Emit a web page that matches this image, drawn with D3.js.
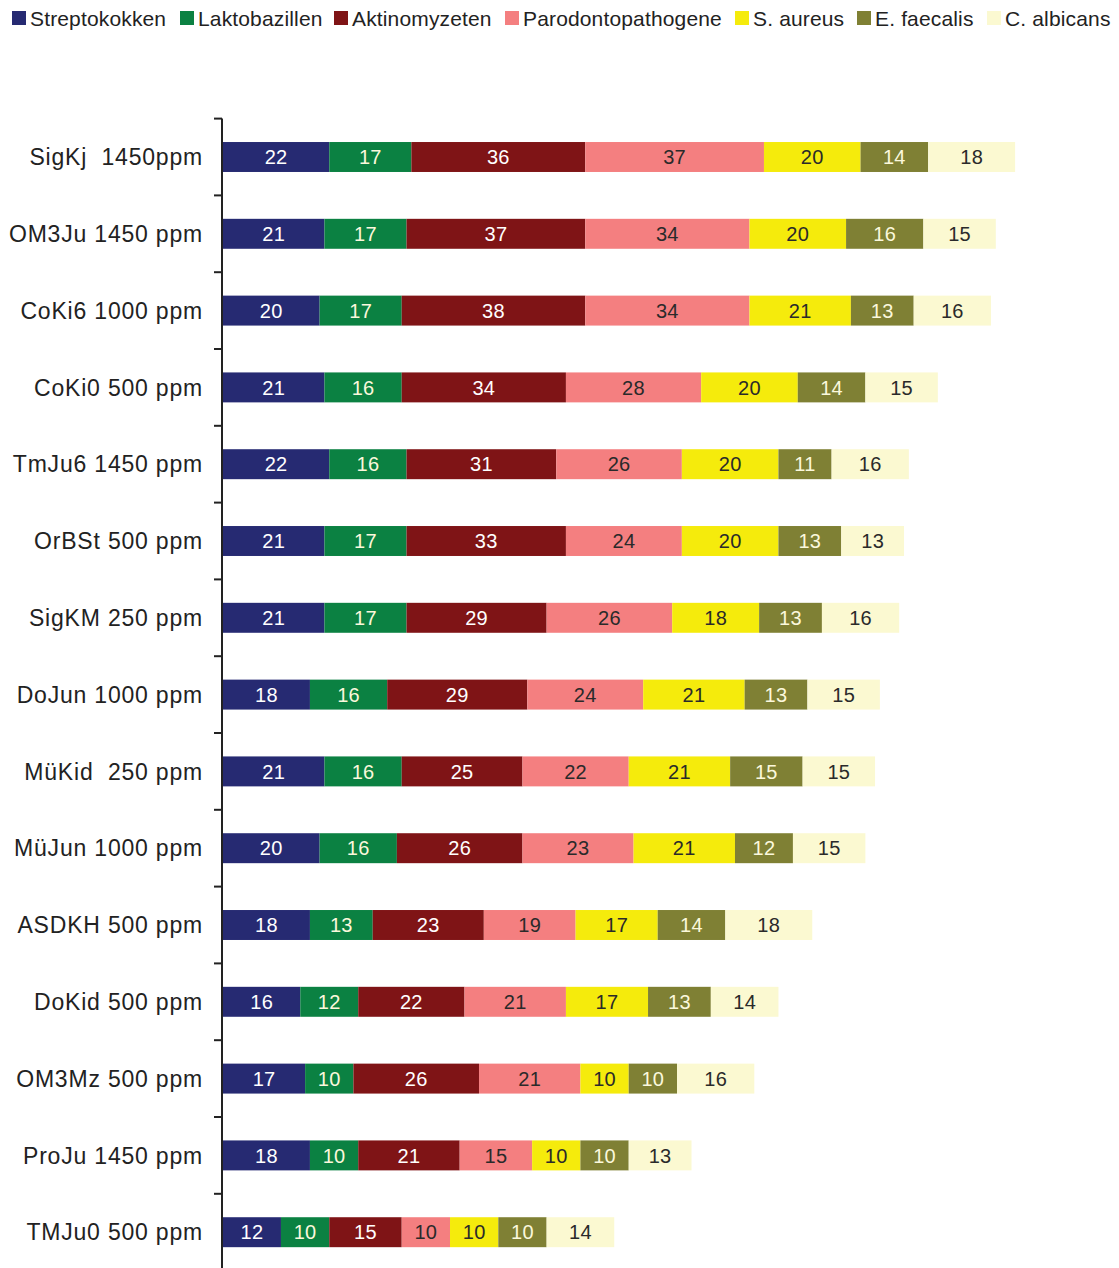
<!DOCTYPE html>
<html>
<head>
<meta charset="utf-8">
<script src="https://cdn.jsdelivr.net/npm/d3@7"></script>
<style>
  body { margin: 0; background: #fff; }
  svg { display: block; font-family: "Liberation Sans", Arial, sans-serif; }
</style>
</head>
<body>
<svg id="chart" width="1119" height="1268"></svg>
<script>
// categories (top to bottom)
const products = ["SigKj  1450ppm", "OM3Ju 1450 ppm", "CoKi6 1000 ppm", "CoKi0 500 ppm", "TmJu6 1450 ppm",
  "OrBSt 500 ppm", "SigKM 250 ppm", "DoJun 1000 ppm", "MüKid  250 ppm", "MüJun 1000 ppm",
  "ASDKH 500 ppm", "DoKid 500 ppm", "OM3Mz 500 ppm", "ProJu 1450 ppm", "TMJu0 500 ppm"];

const seriesNames = ["Streptokokken", "Laktobazillen", "Aktinomyzeten", "Parodontopathogene", "S. aureus", "E. faecalis", "C. albicans"];
const seriesColors = ["#262a72", "#0b8142", "#7f1416", "#f47f80", "#f5eb0c", "#7f8034", "#fbf9d1"];
const labelColors = ["#ffffff", "#fbf8dc", "#ffffff", "#2a2a2a", "#2a2a2a", "#fbf8dc", "#2a2a2a"];

// values per series, one entry per product
const streptokokken = [22, 21, 20, 21, 22, 21, 21, 18, 21, 20, 18, 16, 17, 18, 12];
const laktobazillen = [17, 17, 17, 16, 16, 17, 17, 16, 16, 16, 13, 12, 10, 10, 10];
const aktinomyzeten = [36, 37, 38, 34, 31, 33, 29, 29, 25, 26, 23, 22, 26, 21, 15];
const parodontopathogene = [37, 34, 34, 28, 26, 24, 26, 24, 22, 23, 19, 21, 21, 15, 10];
const sAureus = [20, 20, 21, 20, 20, 20, 18, 21, 21, 21, 17, 17, 10, 10, 10];
const eFaecalis = [14, 16, 13, 14, 11, 13, 13, 13, 15, 12, 14, 13, 10, 10, 10];
const cAlbicans = [18, 15, 16, 15, 16, 13, 16, 15, 15, 15, 18, 14, 16, 13, 14];

const seriesValues = [streptokokken, laktobazillen, aktinomyzeten, parodontopathogene, sAureus, eFaecalis, cAlbicans];

const table = products.map((p, i) => {
  const row = { product: p };
  seriesNames.forEach((s, j) => row[s] = seriesValues[j][i]);
  return row;
});

const stacked = d3.stack().keys(seriesNames)(table);

const svg = d3.select("#chart");

const x = d3.scaleLinear().domain([0, 180]).range([223, 223 + 180 * 4.83]);
const y = d3.scaleBand().domain(products).range([118.6, 1270.6]).paddingInner(0.61).paddingOuter(0.305);

// bars
const layers = svg.append("g").selectAll("g")
  .data(stacked)
  .enter().append("g")
  .attr("fill", (d, i) => seriesColors[i]);

layers.selectAll("rect")
  .data(d => d)
  .enter().append("rect")
  .attr("x", d => x(d[0]))
  .attr("y", d => y(d.data.product))
  .attr("width", d => x(d[1]) - x(d[0]))
  .attr("height", y.bandwidth());

// value labels
layers.each(function(layer, i) {
  d3.select(this).selectAll("text")
    .data(layer)
    .enter().append("text")
    .attr("x", d => (x(d[0]) + x(d[1])) / 2)
    .attr("y", d => y(d.data.product) + y.bandwidth() / 2)
    .attr("dy", "0.36em")
    .attr("text-anchor", "middle")
    .attr("fill", labelColors[i])
    .style("font-size", "20px")
    .style("letter-spacing", "0.3px")
    .text(d => d[1] - d[0]);
});

// category axis with ticks between categories
const axisG = svg.append("g");
axisG.append("line")
  .attr("x1", 222).attr("x2", 222)
  .attr("y1", y.range()[0]).attr("y2", y.range()[1])
  .attr("stroke", "#222").attr("stroke-width", 2);

const step = y.step();
axisG.selectAll("line.tick")
  .data(d3.range(products.length + 1))
  .enter().append("line")
  .attr("class", "tick")
  .attr("x1", 214).attr("x2", 222)
  .attr("y1", i => y.range()[0] + i * step)
  .attr("y2", i => y.range()[0] + i * step)
  .attr("stroke", "#222").attr("stroke-width", 2);

axisG.selectAll("text")
  .data(products)
  .enter().append("text")
  .attr("x", 203)
  .attr("y", d => y(d) + y.bandwidth() / 2)
  .attr("dy", "0.36em")
  .attr("text-anchor", "end")
  .attr("fill", "#222")
  .style("font-size", "23px")
  .style("letter-spacing", "0.8px")
  .style("white-space", "pre")
  .text(d => d);

// legend (swatch positions as laid out in the original)
const legendX = [12, 180, 334, 505, 735, 857, 987];
const legend = svg.append("g");
seriesNames.forEach((s, i) => {
  legend.append("rect")
    .attr("x", legendX[i]).attr("y", 11)
    .attr("width", 14).attr("height", 14)
    .attr("fill", seriesColors[i]);
  legend.append("text")
    .attr("x", legendX[i] + 18).attr("y", 18)
    .attr("dy", "0.36em")
    .attr("fill", "#222")
    .style("font-size", "21px")
    .style("letter-spacing", "0.15px")
    .text(s);
});
</script>
</body>
</html>
